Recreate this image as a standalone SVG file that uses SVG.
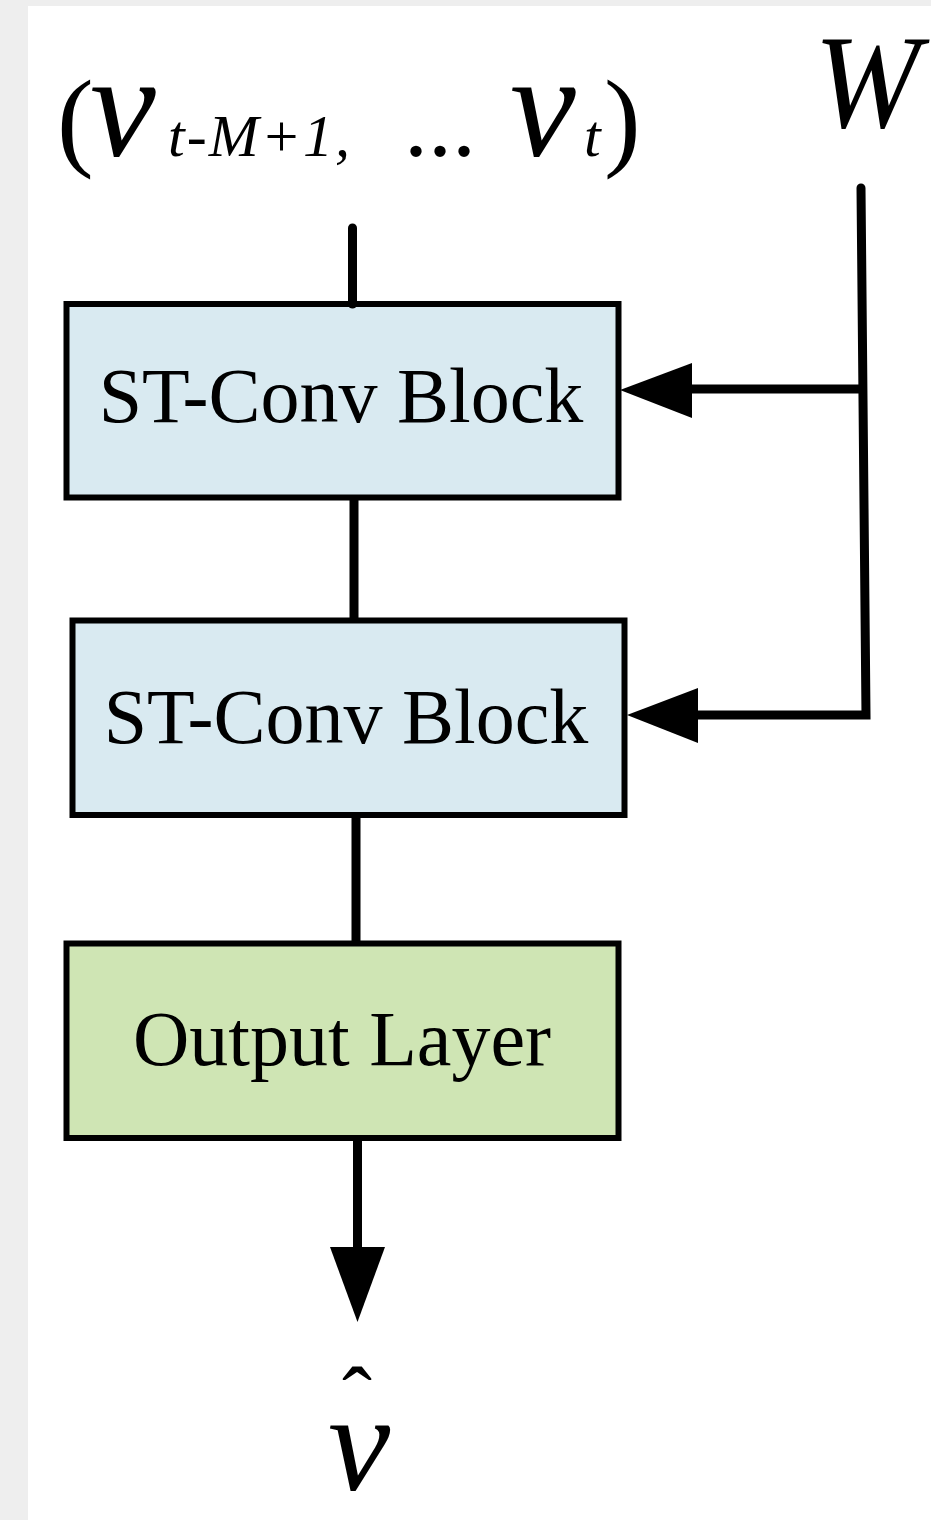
<svg xmlns="http://www.w3.org/2000/svg" width="931" height="1520" viewBox="0 0 931 1520">
  <defs>
    <style>
      .bg { fill: #eeeeee; }
      .canvas { fill: #ffffff; }
      .box { stroke: #000000; stroke-width: 6; }
      .blue { fill: #d9eaf1; }
      .green { fill: #cfe5b4; }
      .label { font-family: "Liberation Serif", "Times New Roman", serif; font-size: 78px; fill: #000000; }
      .math { font-family: "Liberation Serif", "Times New Roman", serif; font-style: italic; fill: #000000; }
      .wire { stroke: #000000; stroke-width: 9; fill: none; }
      .head { fill: #000000; }
    </style>
  </defs>
  <rect class="bg" x="0" y="0" width="931" height="1520"/>
  <rect class="canvas" x="28" y="6" width="903" height="1514"/>

  <g id="input-label">
    <text class="math" y="156">
      <tspan x="57" font-size="110" font-style="normal">(</tspan>
      <tspan x="90" font-size="148">v</tspan>
      <tspan x="168" font-size="60" letter-spacing="2">t-M+1,</tspan>
      <tspan x="404" font-size="96" font-style="normal">...</tspan>
      <tspan x="510" font-size="148">v</tspan>
      <tspan x="584" font-size="60">t</tspan>
      <tspan x="604" font-size="110" font-style="normal">)</tspan>
    </text>
  </g>

  <g id="w-label">
    <text class="math" x="814" y="127" font-size="134" textLength="106" lengthAdjust="spacingAndGlyphs">W</text>
  </g>

  <g id="block1">
    <rect class="box blue" x="66.5" y="304" width="552" height="193.5"/>
    <text class="label" x="341" y="422" text-anchor="middle">ST-Conv Block</text>
  </g>

  <g id="block2">
    <rect class="box blue" x="72.5" y="620.5" width="552" height="194.5"/>
    <text class="label" x="346" y="743" text-anchor="middle">ST-Conv Block</text>
  </g>

  <g id="output-layer">
    <rect class="box green" x="66.5" y="943.5" width="552" height="194.5"/>
    <text class="label" x="342" y="1065" text-anchor="middle">Output Layer</text>
  </g>

  <g id="output-label">
    <text class="math">
      <tspan x="342" y="1430" font-size="90" font-style="normal">ˆ</tspan>
      <tspan x="328" y="1490" font-size="140">v</tspan>
    </text>
  </g>

  <g id="connectors">
    <line class="wire" x1="352.5" y1="228" x2="352.5" y2="304" stroke-linecap="round"/>
    <line class="wire" x1="354" y1="497.5" x2="354" y2="620.5"/>
    <line class="wire" x1="356" y1="815" x2="356" y2="943.5"/>
    <line class="wire" x1="357.5" y1="1138" x2="357.5" y2="1252"/>
    <polygon class="head" points="330,1247 385,1247 357.5,1322"/>
    <path class="wire" d="M861,188 L866,715 L696,715" stroke-linecap="round" stroke-linejoin="miter"/>
    <polygon class="head" points="627,715 698,688 698,743"/>
    <line class="wire" x1="862" y1="389" x2="690" y2="389"/>
    <polygon class="head" points="620,390 692,363 692,418"/>
  </g>
</svg>
